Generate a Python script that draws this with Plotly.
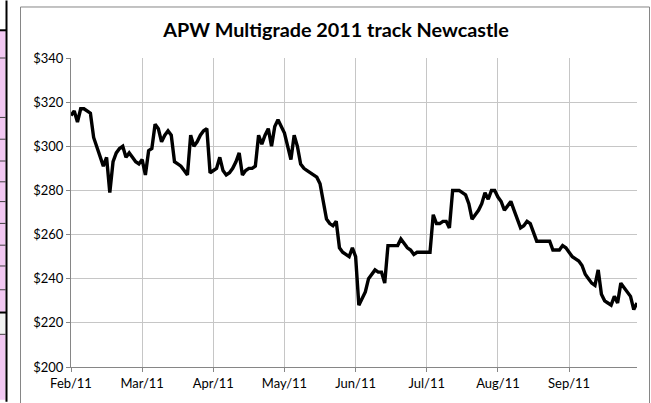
import plotly.graph_objects as go

# ---- data ----
prices = [
    314, 316, 311, 317, 317, 316, 315, 304, 300, 296,
    291, 295, 279, 293, 297, 299, 300, 295, 297, 295,
    293, 292, 294, 287, 298, 299, 310, 308, 302, 305,
    307, 305, 293, 292, 291, 289, 287, 305, 300, 302,
    305, 307, 308, 288, 289, 290, 295, 289, 287, 288,
    290, 293, 297, 287, 289, 290, 290, 291, 305, 301,
    305, 308, 300, 309, 312, 309, 306, 300, 294, 305,
    300, 292, 290, 289, 288, 287, 286, 283, 274, 267,
    265, 264, 266, 254, 252, 251, 250, 254, 250, 228,
    231, 234, 240, 242, 244, 243, 243, 238, 255, 255,
    255, 255, 258, 256, 254, 253, 251, 252, 252, 252,
    252, 252, 269, 265, 265, 266, 266, 263, 280, 280,
    280, 279, 278, 274, 267, 269, 271, 274, 279, 276,
    280, 280, 277, 275, 271, 273, 275, 271, 267, 263,
    264, 266, 265, 261, 257, 257, 257, 257, 257, 253,
    253, 253, 255, 254, 252, 250, 249, 248, 246, 242,
    240, 238, 237, 244, 233, 230, 229, 228, 232, 229,
    238, 236, 234, 232, 226, 229,
]
trading_day = list(range(len(prices)))
month_tick_day = [0, 22, 44, 66, 88, 110, 132, 154]
month_labels = ["Feb/11", "Mar/11", "Apr/11", "May/11", "Jun/11", "Jul/11", "Aug/11", "Sep/11"]
price_ticks = [200, 220, 240, 260, 280, 300, 320, 340]
title_text = "APW Multigrade 2011 track Newcastle"

# ---- layout geometry (pixels) ----
W, H = 651, 403
ML, MR, MT, MB = 71, 14, 58, 33
PW = W - ML - MR
PH = H - MT - MB


def px_x(x):
    return (x - ML) / PW


def px_y(y):
    return (H - MB - y) / PH


FONT = "Lato, Carlito, Calibri, sans-serif"
GRID = "#c6c6c6"
AXIS = "#868686"

fig = go.Figure()
fig.add_trace(go.Scatter(
    x=trading_day, y=prices, mode="lines",
    line=dict(color="#000000", width=3.4),
    hoverinfo="skip", showlegend=False,
))

shapes = []
# spreadsheet remnants at left edge
shapes.append(dict(type="rect", xref="paper", yref="paper",
                   x0=px_x(0), x1=px_x(5.5), y0=px_y(H), y1=px_y(30),
                   fillcolor="#f2c8f2", line=dict(width=0), layer="below"))
shapes.append(dict(type="rect", xref="paper", yref="paper",
                   x0=px_x(0), x1=px_x(5.5), y0=px_y(337), y1=px_y(315),
                   fillcolor="#f2f2f2", line=dict(width=0), layer="below"))
for yy in [58, 118, 140, 162, 183, 203, 225, 247, 268, 292, 337]:
    shapes.append(dict(type="line", xref="paper", yref="paper",
                       x0=px_x(0), x1=px_x(5.5), y0=px_y(yy), y1=px_y(yy),
                       line=dict(color="#404040", width=1)))
for yy in [30, 315]:
    shapes.append(dict(type="line", xref="paper", yref="paper",
                       x0=px_x(0), x1=px_x(6.5), y0=px_y(yy), y1=px_y(yy),
                       line=dict(color="#000000", width=2)))
shapes.append(dict(type="line", xref="paper", yref="paper",
                   x0=px_x(6.5), x1=px_x(6.5), y0=px_y(H + 2), y1=px_y(0),
                   line=dict(color="#000000", width=2)))
# chart-area border
shapes.append(dict(type="rect", xref="paper", yref="paper",
                   x0=px_x(20.5), x1=px_x(649.5), y0=px_y(H + 5), y1=px_y(6.5),
                   line=dict(color=AXIS, width=1), fillcolor="rgba(0,0,0,0)"))

fig.update_layout(
    width=W, height=H,
    margin=dict(l=ML, r=MR, t=MT, b=MB),
    paper_bgcolor="white", plot_bgcolor="white",
    font=dict(family=FONT, size=13, color="#000000"),
    title=dict(text="<b>" + title_text + "</b>", x=336 / W, xanchor="center",
               y=1 - 30 / H, yanchor="middle", yref="container",
               font=dict(family=FONT, size=19.8, color="#000000")),
    shapes=shapes,
    xaxis=dict(
        range=[0, len(prices) - 1], tickmode="array",
        tickvals=month_tick_day, ticktext=month_labels,
        showgrid=True, gridcolor=GRID, gridwidth=1,
        showline=True, linecolor=AXIS, linewidth=1,
        ticks="outside", ticklen=4, tickcolor=AXIS,
        zeroline=False, fixedrange=True,
        tickfont=dict(family=FONT, size=13),
    ),
    yaxis=dict(
        range=[200, 340], tickmode="array", tickvals=price_ticks,
        ticktext=["$" + str(v) for v in price_ticks],
        showgrid=True, gridcolor=GRID, gridwidth=1,
        showline=True, linecolor=AXIS, linewidth=1,
        ticks="outside", ticklen=4, tickcolor=AXIS,
        zeroline=False, fixedrange=True,
        tickfont=dict(family=FONT, size=13),
    ),
)

fig.write_html(
    "out.html",
    config={"displayModeBar": False},
    post_script="document.body.style.margin='0';document.body.style.overflow='hidden';",
)
